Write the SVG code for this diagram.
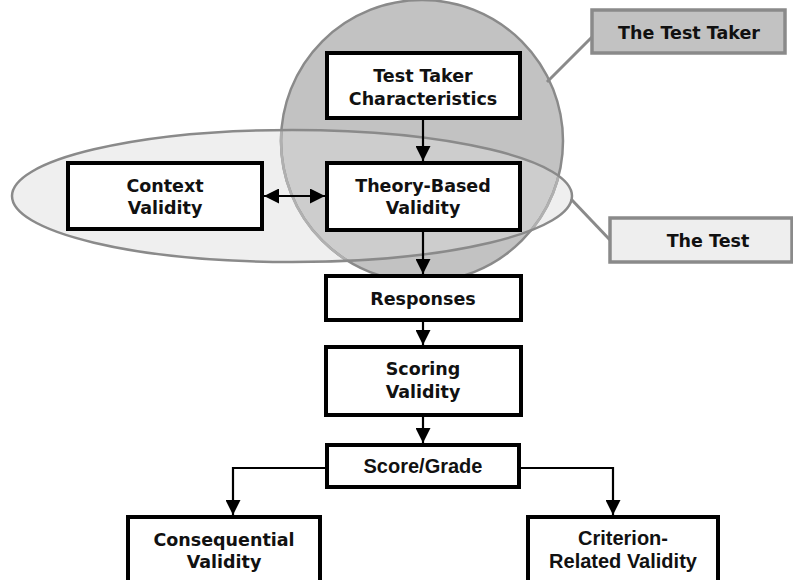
<svg xmlns="http://www.w3.org/2000/svg" width="793" height="580" viewBox="0 0 793 580">
<style>
.box{fill:#fff;stroke:#000;stroke-width:4}
.t{font-family:"DejaVu Sans",Verdana,sans-serif;font-weight:bold;font-size:17.5px;text-anchor:middle;fill:#111}
.a{font-family:"Liberation Sans",Arial,sans-serif;font-weight:bold;font-size:20px;text-anchor:middle;fill:#111}
.c{fill:none;stroke:#000;stroke-width:2.2}
.g{fill:none;stroke:#8a8a8a;stroke-width:3}
.lab{stroke:#8a8a8a;stroke-width:3.5}
</style>
<defs>
<marker id="ah" viewBox="0 0 10 10" refX="10" refY="5" markerWidth="15" markerHeight="15" markerUnits="userSpaceOnUse" orient="auto-start-reverse">
<path d="M0,0 L10,5 L0,10 z" fill="#000"/>
</marker>
<clipPath id="ellclip"><ellipse cx="292" cy="196" rx="280" ry="66"/></clipPath>
</defs>
<rect width="793" height="580" fill="#fff"/>
<g id="regions">
<circle cx="422" cy="141" r="141" fill="#c2c2c2"/>
<ellipse cx="292" cy="196" rx="280" ry="66" fill="#efefef"/>
<circle cx="422" cy="141" r="141" fill="#cdcdcd" clip-path="url(#ellclip)"/>
<circle id="test-taker-region" cx="422" cy="141" r="141" fill="none" stroke="#8a8a8a" stroke-width="2.5"/>
<circle cx="422" cy="141" r="141" fill="none" stroke="#b0b0b0" stroke-width="2.6" clip-path="url(#ellclip)"/>
<ellipse id="test-region" cx="292" cy="196" rx="280" ry="66" fill="none" stroke="#8a8a8a" stroke-width="2.5"/>
</g>
<g id="connectors">
<line class="g" x1="592" y1="37" x2="547" y2="82"/>
<line class="g" x1="610" y1="240" x2="571" y2="199"/>
<line class="c" x1="423" y1="118" x2="423" y2="161" marker-end="url(#ah)"/>
<line class="c" x1="423" y1="230" x2="423" y2="274" marker-end="url(#ah)"/>
<line class="c" x1="423" y1="320" x2="423" y2="345" marker-end="url(#ah)"/>
<line class="c" x1="423" y1="415" x2="423" y2="443" marker-end="url(#ah)"/>
<line class="c" x1="264" y1="196" x2="325" y2="196" marker-start="url(#ah)" marker-end="url(#ah)"/>
<polyline class="c" points="327,468 233,468 233,515" marker-end="url(#ah)"/>
<polyline class="c" points="519,468 613,468 613,515" marker-end="url(#ah)"/>
</g>
<g id="the-test-taker">
<rect class="lab" x="592" y="10" width="193" height="43" fill="#c2c2c2"/>
<text class="t" x="689" y="39">The Test Taker</text>
</g>
<g id="the-test">
<rect class="lab" x="610" y="218" width="182" height="44" fill="#eeeeee"/>
<text class="t" x="708" y="247">The Test</text>
</g>
<g id="test-taker-characteristics">
<rect class="box" x="327" y="53" width="193" height="65"/>
<text class="t" x="423" y="82">Test Taker</text>
<text class="t" x="423" y="105">Characteristics</text>
</g>
<g id="context-validity">
<rect class="box" x="68" y="163" width="194" height="66"/>
<text class="t" x="165" y="192">Context</text>
<text class="t" x="165" y="214">Validity</text>
</g>
<g id="theory-based-validity">
<rect class="box" x="327" y="163" width="193" height="67"/>
<text class="t" x="423" y="192">Theory-Based</text>
<text class="t" x="423" y="214">Validity</text>
</g>
<g id="responses">
<rect class="box" x="326" y="276" width="195" height="44"/>
<text class="t" x="423" y="305">Responses</text>
</g>
<g id="scoring-validity">
<rect class="box" x="326" y="347" width="195" height="68"/>
<text class="t" x="423" y="375">Scoring</text>
<text class="t" x="423" y="398">Validity</text>
</g>
<g id="score-grade">
<rect class="box" x="327" y="445" width="192" height="42"/>
<text class="a" x="423" y="473">Score/Grade</text>
</g>
<g id="consequential-validity">
<rect class="box" x="128" y="517" width="192" height="80"/>
<text class="t" x="224" y="546">Consequential</text>
<text class="t" x="224" y="568">Validity</text>
</g>
<g id="criterion-related-validity">
<rect class="box" x="528" y="517" width="190" height="80"/>
<text class="a" x="623" y="545">Criterion-</text>
<text class="a" x="623" y="568">Related Validity</text>
</g>
</svg>
